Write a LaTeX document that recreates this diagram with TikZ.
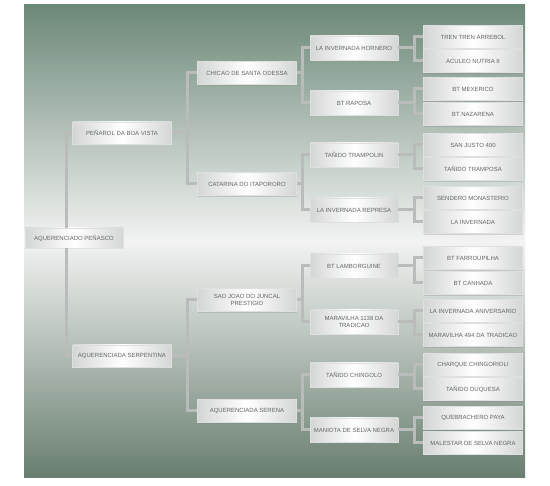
\documentclass[tikz,border=0pt]{standalone}
\usepackage{fontspec}
\setmainfont{Liberation Sans}
\usetikzlibrary{positioning,shadows}
\definecolor{panelgreen}{RGB}{108,136,120}
\definecolor{panellow}{RGB}{104,126,111}
\definecolor{panelwhite}{RGB}{242,243,242}
\definecolor{boxgray}{RGB}{212,214,213}
\definecolor{boxedge}{RGB}{222,224,223}
\definecolor{linkgray}{RGB}{186,188,187}
\definecolor{labelgray}{RGB}{98,103,100}
\tikzset{
  tile/.style={rectangle, draw=boxedge, line width=0.4pt, left color=boxgray, right color=boxgray, middle color=white, align=center, inner sep=0pt, text=labelgray, font=\fontsize{6}{6.9}\selectfont, drop shadow={shadow xshift=0.6pt, shadow yshift=-1.4pt, opacity=0.28}},
  rootbox/.style={tile, minimum width=98pt, minimum height=20pt},
  clubbox/.style={tile, minimum width=99pt, minimum height=22pt},
  sirebox/.style={tile, minimum width=99pt, minimum height=23pt},
  dambox/.style={tile, minimum width=88pt, minimum height=24pt},
  leafbox/.style={tile, minimum width=99pt, minimum height=23pt},
  link/.style={draw=linkgray, line width=3pt}
}
\begin{document}
\begin{tikzpicture}[x=1pt, y=-1pt]
\useasboundingbox (0,0) rectangle (550,486);
% panel
\shade[top color=panelgreen, bottom color=panellow, middle color=panelwhite] (24,5) rectangle (525,478);
% generation 0 and 1
\node[rootbox] (root) at (74,238) {AQUERENCIADO PEÑASCO};
\node[clubbox] (penarol) at (122,133) {PEÑAROL DA BOA VISTA};
\node[clubbox] (serpentina) at (122,356) {AQUERENCIADA SERPENTINA};
% generation 2
\node[sirebox] (chicao) at (247,73) {CHICAO DE SANTA ODESSA};
\node[sirebox] (catarina) at (247,184) {CATARINA DO ITAPORORO};
\node[sirebox] (saojoao) at (247,300) {SAO JOAO DO JUNCAL\\PRESTIGIO};
\node[sirebox] (serena) at (247,411) {AQUERENCIADA SERENA};
% generation 3
\node[dambox] (hornero) at (354,48) {LA INVERNADA HORNERO};
\node[dambox] (raposa) at (354,103) {BT RAPOSA};
\node[dambox] (trampolin) at (354,155) {TAÑIDO TRAMPOLIN};
\node[dambox] (represa) at (354,210) {LA INVERNADA REPRESA};
\node[dambox] (lamborguine) at (354,266) {BT LAMBORGUINE};
\node[dambox] (maravilha) at (354,322) {MARAVILHA 1138 DA\\TRADICAO};
\node[dambox] (chingolo) at (354,375) {TAÑIDO CHINGOLO};
\node[dambox] (maniota) at (354,430) {MANIOTA DE SELVA NEGRA};
% generation 4
\node[leafbox] (arrebol) at (473,37) {TREN TREN ARREBOL};
\node[leafbox] (aculeo) at (473,61) {ACULEO NUTRIA II};
\node[leafbox] (mexerico) at (473,89) {BT MEXERICO};
\node[leafbox] (nazarena) at (473,114) {BT NAZARENA};
\node[leafbox] (sanjusto) at (473,145) {SAN JUSTO 400};
\node[leafbox] (tramposa) at (473,169) {TAÑIDO TRAMPOSA};
\node[leafbox] (sendero) at (473,198) {SENDERO MONASTERIO};
\node[leafbox] (invernada) at (473,222) {LA INVERNADA};
\node[leafbox] (farroupilha) at (473,258) {BT FARROUPILHA};
\node[leafbox] (canhada) at (473,283) {BT CANHADA};
\node[leafbox] (aniversario) at (473,311) {LA INVERNADA ANIVERSARIO};
\node[leafbox] (tradicao) at (473,335) {MARAVILHA 494 DA TRADICAO};
\node[leafbox] (chingorioli) at (473,365) {CHARQUE CHINGORIOLI};
\node[leafbox] (duquesa) at (473,389) {TAÑIDO DUQUESA};
\node[leafbox] (paya) at (473,418) {QUEBRACHERO PAYA};
\node[leafbox] (malestar) at (473,443) {MALESTAR DE SELVA NEGRA};
% links
\draw[link] ([xshift=-8pt]root.north) |- (penarol.west);
\draw[link] ([xshift=-8pt]root.south) |- (serpentina.west);
\draw[link] (penarol.east) -- ++(16,0) |- (chicao.west);
\draw[link] (penarol.east) -- ++(16,0) |- (catarina.west);
\draw[link] (serpentina.east) -- ++(16,0) |- (saojoao.west);
\draw[link] (serpentina.east) -- ++(16,0) |- (serena.west);
\draw[link] (chicao.east) -- ++(6,0) |- (hornero.west);
\draw[link] (chicao.east) -- ++(6,0) |- (raposa.west);
\draw[link] (catarina.east) -- ++(6,0) |- (trampolin.west);
\draw[link] (catarina.east) -- ++(6,0) |- (represa.west);
\draw[link] (saojoao.east) -- ++(6,0) |- (lamborguine.west);
\draw[link] (saojoao.east) -- ++(6,0) |- (maravilha.west);
\draw[link] (serena.east) -- ++(6,0) |- (chingolo.west);
\draw[link] (serena.east) -- ++(6,0) |- (maniota.west);
\draw[link] (hornero.east) -- ++(16,0) |- (arrebol.west);
\draw[link] (hornero.east) -- ++(16,0) |- (aculeo.west);
\draw[link] (raposa.east) -- ++(16,0) |- (mexerico.west);
\draw[link] (raposa.east) -- ++(16,0) |- (nazarena.west);
\draw[link] (trampolin.east) -- ++(16,0) |- (sanjusto.west);
\draw[link] (trampolin.east) -- ++(16,0) |- (tramposa.west);
\draw[link] (represa.east) -- ++(16,0) |- (sendero.west);
\draw[link] (represa.east) -- ++(16,0) |- (invernada.west);
\draw[link] (lamborguine.east) -- ++(16,0) |- (farroupilha.west);
\draw[link] (lamborguine.east) -- ++(16,0) |- (canhada.west);
\draw[link] (maravilha.east) -- ++(16,0) |- (aniversario.west);
\draw[link] (maravilha.east) -- ++(16,0) |- (tradicao.west);
\draw[link] (chingolo.east) -- ++(16,0) |- (chingorioli.west);
\draw[link] (chingolo.east) -- ++(16,0) |- (duquesa.west);
\draw[link] (maniota.east) -- ++(16,0) |- (paya.west);
\draw[link] (maniota.east) -- ++(16,0) |- (malestar.west);
\end{tikzpicture}
\end{document}
